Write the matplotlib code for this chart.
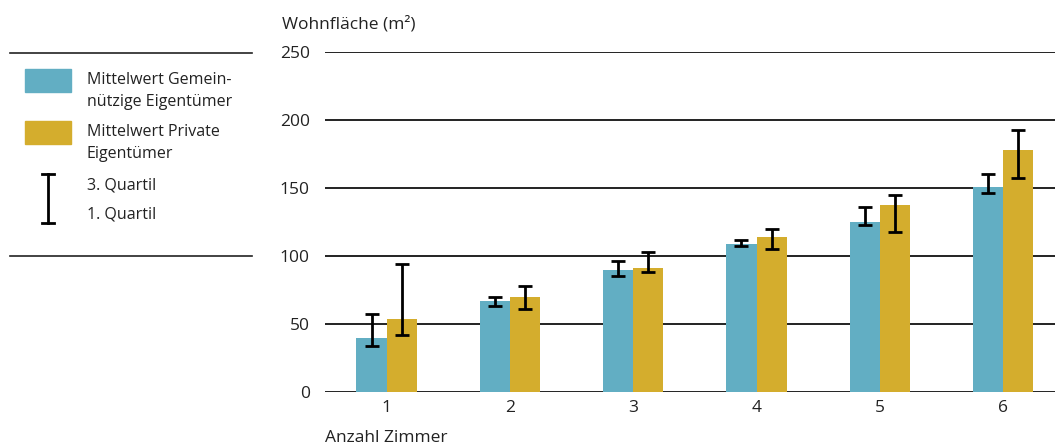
import numpy as np
import matplotlib
matplotlib.use('Agg')
import matplotlib.pyplot as plt
from matplotlib.patches import Rectangle
from matplotlib.lines import Line2D

plt.rcParams['font.family'] = ['Open Sans', 'DejaVu Sans']

# data
rooms = ['1', '2', '3', '4', '5', '6']
mean_gem = [40, 67, 90, 109, 125, 151]
q1_gem = [34, 63, 85, 107.5, 122.5, 146]
q3_gem = [57, 70, 96, 112, 136, 160]
mean_priv = [54, 70, 91, 114, 137.5, 178]
q1_priv = [42, 61, 88, 105, 118, 157]
q3_priv = [94, 78, 103, 120, 145, 193]

blue = '#62AEC3'
gold = '#D4AD2D'

W, H = 1055, 447
fig = plt.figure(figsize=(W / 100, H / 100), dpi=100)
ax = fig.add_axes([325 / W, 1 - 392 / H, 1 - 325 / W, (392 - 52) / H])

x = np.arange(1, len(rooms) + 1)
bw = 0.245
ax.bar(x - bw / 2, mean_gem, width=bw, color=blue, zorder=3)
ax.bar(x + bw / 2, mean_priv, width=bw, color=gold, zorder=3)

err_kw = dict(fmt='none', ecolor='black', elinewidth=2.0, capsize=4.8, capthick=2.0, zorder=4)
ax.errorbar(x - bw / 2, [(a + b) / 2 for a, b in zip(q1_gem, q3_gem)],
            yerr=[(b - a) / 2 for a, b in zip(q1_gem, q3_gem)], **err_kw)
ax.errorbar(x + bw / 2, [(a + b) / 2 for a, b in zip(q1_priv, q3_priv)],
            yerr=[(b - a) / 2 for a, b in zip(q1_priv, q3_priv)], **err_kw)

ax.set_xlim(0.5, 6.42)
ax.set_ylim(0, 250)
ax.set_yticks([0, 50, 100, 150, 200, 250])
ax.set_xticks(x)
ax.set_xticklabels(rooms)
ax.yaxis.grid(True, color='#222222', linewidth=1.4, zorder=0)
ax.set_axisbelow(True)
for s in ax.spines.values():
    s.set_visible(False)
ax.tick_params(length=0, labelsize=12.5, colors='#222222')
ax.tick_params(axis='y', pad=11)
ax.tick_params(axis='x', pad=6)

fig.text(282 / W, 1 - 24 / H, 'Wohnfläche (m²)', fontsize=12.5, color='#222222', va='center', ha='left')
fig.text(325 / W, 1 - 438 / H, 'Anzahl Zimmer', fontsize=12.5, color='#222222', va='center', ha='left')

# legend drawn in figure coordinates
def fx(px):
    return px / W

def fy(py):
    return 1 - py / H

for py in (53, 256):
    fig.add_artist(Line2D([fx(10), fx(252)], [fy(py), fy(py)], color='#222222', linewidth=1.2))
fig.add_artist(Rectangle((fx(25), fy(92)), fx(71) - fx(25), fy(69) - fy(92), color=blue))
fig.add_artist(Rectangle((fx(25), fy(144)), fx(71) - fx(25), fy(121) - fy(144), color=gold))
fig.add_artist(Line2D([fx(48), fx(48)], [fy(174), fy(223)], color='black', linewidth=2.0))
for py in (174, 223):
    fig.add_artist(Line2D([fx(42), fx(54)], [fy(py), fy(py)], color='black', linewidth=2.0))

leg_texts = [(80, 'Mittelwert Gemein-'), (102, 'nützige Eigentümer'),
             (132, 'Mittelwert Private'), (154, 'Eigentümer'),
             (185, '3. Quartil'), (215, '1. Quartil')]
for py, t in leg_texts:
    fig.text(fx(87), fy(py), t, fontsize=11.5, color='#222222', va='center', ha='left')

fig.savefig('out.png', dpi=100)
